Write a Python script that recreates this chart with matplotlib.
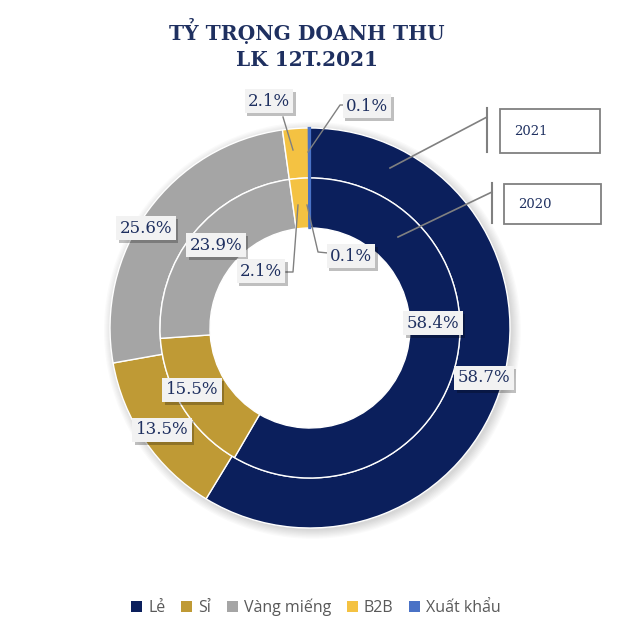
import matplotlib.pyplot as plt
import matplotlib.patheffects as pe
from matplotlib.patches import Patch, Rectangle, Circle

categories = ['Lẻ', 'Sỉ', 'Vàng miếng', 'B2B', 'Xuất khẩu']
share_2021 = [58.7, 13.5, 25.6, 2.1, 0.1]
share_2020 = [58.4, 15.5, 23.9, 2.1, 0.1]
colors = ['#0b1f5c', '#bf9a35', '#a5a5a5', '#f4c242', '#4a72c6']

# label layout in data units (outer radius of the chart = 1)
pos_2021 = [(0.87, -0.25), (-0.74, -0.51), (-0.82, 0.50), (-0.205, 1.135), (0.285, 1.11)]
pos_2020 = [(0.615, 0.025), (-0.59, -0.31), (-0.47, 0.415), (-0.245, 0.285), (0.205, 0.36)]

# leader lines for the thin slices
leaders = [
    [(-0.085, 0.89), (-0.135, 1.055)],
    [(-0.01, 0.88), (0.15, 1.115), (0.18, 1.115)],
    [(-0.06, 0.615), (-0.085, 0.28), (-0.12, 0.28)],
    [(-0.015, 0.615), (0.04, 0.38), (0.09, 0.375)],
]

txt_color = '#1f3060'
line_color = '#808080'

fig = plt.figure(figsize=(6.3, 6.26), dpi=100)
ax = fig.add_axes([0, 0, 1, 1])
ax.set_aspect('equal')
ax.axis('off')

# soft shadow round the outer ring
for i in range(8):
    ax.add_patch(Circle((0.012, -0.012), 1.0 + 0.006 * i, color='black',
                        alpha=0.018, lw=0, zorder=0))
ax.add_patch(Circle((0, 0), 0.5, color='white', lw=0, zorder=0.5))

for radius, vals in [(1.0, share_2021), (0.75, share_2020)]:
    wedges, _ = ax.pie(vals, radius=radius, colors=colors, startangle=90, counterclock=False,
                       wedgeprops=dict(width=0.25, edgecolor='white', linewidth=1))
    # keep the thin export slice visible
    wedges[-1].set_edgecolor(colors[-1])
    wedges[-1].set_linewidth(1.6)
ax.set_xlim(-1.55, 1.60)
ax.set_ylim(-1.49, 1.64)

for pts in leaders:
    xs, ys = zip(*pts)
    ax.plot(xs, ys, color=line_color, lw=1, zorder=3)

def pct_label(x, y, val):
    t = ax.text(x, y, f'{val:.1f}%', ha='center', va='center', fontsize=12,
                family='DejaVu Serif', color=txt_color, zorder=5,
                bbox=dict(boxstyle='square,pad=0.2', fc='#f2f2f2', ec='none'))
    t.get_bbox_patch().set_path_effects(
        [pe.withSimplePatchShadow(offset=(2, -2), shadow_rgbFace='black', alpha=0.25)])

for (x, y), v in zip(pos_2021, share_2021):
    pct_label(x, y, v)
for (x, y), v in zip(pos_2020, share_2020):
    pct_label(x, y, v)

# year callouts
callouts = [
    ('2021', [(0.40, 0.80), (0.885, 1.055)], 0.885, (0.88, 1.10), (0.95, 0.875, 0.50, 0.22), (1.02, 0.985)),
    ('2020', [(0.44, 0.455), (0.91, 0.68)], 0.91, (0.525, 0.725), (0.97, 0.52, 0.485, 0.20), (1.04, 0.62)),
]
for year, ln, bx, (y0, y1), (rx, ry, rw, rh), (tx, ty) in callouts:
    xs, ys = zip(*ln)
    ax.plot(xs, ys, color=line_color, lw=1.2, zorder=3)
    ax.plot([bx, bx], [y0, y1], color=line_color, lw=1.5, zorder=3)
    ax.add_patch(Rectangle((rx, ry), rw, rh, fc='white', ec=line_color, lw=1.3, zorder=3))
    ax.text(tx, ty, year, ha='left', va='center', fontsize=9.5,
            family='DejaVu Serif', color=txt_color, zorder=4)

fig.text(307 / 630, 1 - 44 / 626, 'TỶ TRỌNG DOANH THU\nLK 12T.2021', ha='center',
         va='center', fontsize=14.5, fontweight='bold', family='DejaVu Serif',
         color='#1f3060', linespacing=1.4)

handles = [Patch(facecolor=c, edgecolor='none') for c in colors]
leg = fig.legend(handles, categories, loc='center', bbox_to_anchor=(316 / 630, 1 - 607 / 626),
                 ncol=5, frameon=False, handlelength=0.7, handleheight=0.7,
                 handletextpad=0.35, columnspacing=1.0,
                 prop={'family': 'Open Sans', 'size': 11.5})
for t in leg.get_texts():
    t.set_color('#595959')

fig.savefig('out.png', dpi=100)
